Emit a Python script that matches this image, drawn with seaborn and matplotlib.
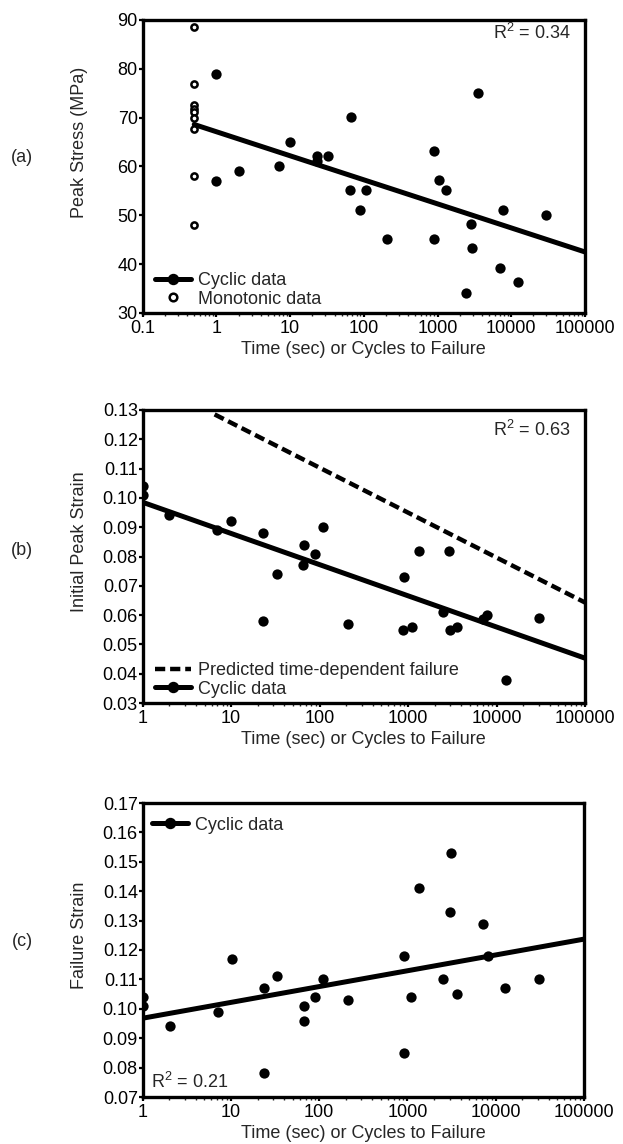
import matplotlib
matplotlib.use("Agg")
import matplotlib.pyplot as plt
import matplotlib.ticker as mticker
from matplotlib.lines import Line2D
import seaborn as sns

# ---- panel (a): peak stress vs time / cycles ----
a_cyc_time = [1, 1, 2, 7, 10, 22.8, 22.8, 32.7, 64.4, 67.9, 87.9, 108, 206,
              893, 893, 1045, 1288, 2455, 2870, 2965, 3532, 6935, 7690, 12300, 29800]
a_cyc_stress = [79, 57, 59, 60, 65, 62.2, 61.2, 62.2, 55.2, 70.2, 51.1, 55.2, 45.2,
                63.1, 45.2, 57.2, 55.2, 34.1, 48.2, 43.3, 75.1, 39.2, 51.1, 36.3, 50.1]
a_mono_time = [0.5, 0.5, 0.5, 0.5, 0.5, 0.5, 0.5, 0.5, 0.5]
a_mono_stress = [88.6, 76.9, 72.5, 71.8, 71.2, 69.9, 67.7, 58.0, 48.0]
a_fit_time = [0.5, 100000]
a_fit_stress = [68.6, 42.5]

# ---- panel (b): initial peak strain ----
b_time = [1, 1, 2, 7, 10, 22.7, 22.7, 32.7, 67, 65.3, 88.5, 108, 207,
          903, 880, 1096, 1324, 2495, 2915, 2965, 3590, 7060, 7710, 12650, 30300]
b_strain = [0.104, 0.101, 0.094, 0.089, 0.092, 0.088, 0.058, 0.074, 0.084, 0.077, 0.081, 0.090, 0.057,
            0.073, 0.055, 0.056, 0.082, 0.061, 0.082, 0.055, 0.056, 0.0585, 0.060, 0.038, 0.059]
b_fit_time = [1, 100000]
b_fit_strain = [0.0985, 0.0453]
b_pred_time = [6.5, 100000]
b_pred_strain = [0.1285, 0.0643]

# ---- panel (c): failure strain ----
c_time = [1, 1, 2.05, 7.1, 10.3, 23.5, 23.5, 33.3, 66.9, 66.9, 90.6, 110, 213,
          910, 910, 1102, 1347, 2541, 2993, 3073, 3657, 7215, 8160, 12700, 30900]
c_strain = [0.104, 0.101, 0.094, 0.099, 0.117, 0.107, 0.078, 0.111, 0.101, 0.096, 0.104, 0.110, 0.103,
            0.118, 0.085, 0.104, 0.141, 0.110, 0.133, 0.153, 0.105, 0.129, 0.118, 0.107, 0.110]
c_fit_time = [1, 100000]
c_fit_strain = [0.0968, 0.1237]

decade_ticks = [0.1, 1, 10, 100, 1000, 10000, 100000]
decade_labels = ['0.1', '1', '10', '100', '1000', '10000', '100000']

sns.set_style("ticks")
plt.rcParams['font.family'] = ['Liberation Sans', 'DejaVu Sans']
plt.rcParams['font.size'] = 13
plt.rcParams['mathtext.fontset'] = 'custom'
plt.rcParams['mathtext.rm'] = 'Liberation Sans'
plt.rcParams['mathtext.it'] = 'Liberation Sans:italic'

FS = 13
W, H = 623, 1144
fig = plt.figure(figsize=(W / 100, H / 100), dpi=100)


def make_axes(left, top, right, bottom):
    return fig.add_axes([left / W, 1 - bottom / H, (right - left) / W, (bottom - top) / H])


def style_axis(ax, xmin, ylim, ystep, yfmt):
    ax.set_xscale('log')
    ax.set_xlim(xmin, 100000)
    ax.set_ylim(*ylim)
    ticks = [t for t in decade_ticks if t >= xmin]
    labels = [l for t, l in zip(decade_ticks, decade_labels) if t >= xmin]
    ax.xaxis.set_major_locator(mticker.FixedLocator(ticks))
    ax.xaxis.set_major_formatter(mticker.FixedFormatter(labels))
    ax.xaxis.set_minor_locator(mticker.LogLocator(base=10, subs=range(2, 10), numticks=20))
    ax.xaxis.set_minor_formatter(mticker.NullFormatter())
    ax.yaxis.set_major_locator(mticker.MultipleLocator(ystep))
    ax.yaxis.set_major_formatter(mticker.FormatStrFormatter(yfmt))
    ax.tick_params(which='major', direction='out', length=3, width=1.6,
                   labelsize=FS, colors='black')
    ax.tick_params(axis='x', which='major', pad=2)
    ax.tick_params(axis='y', which='major', pad=0.5)
    ax.tick_params(which='minor', direction='out', length=2.5, width=1.0)
    ax.tick_params(axis='y', which='minor', left=False)
    for sp in ax.spines.values():
        sp.set_visible(True)
        sp.set_linewidth(2.4)
        sp.set_color('black')
    ax.set_xlabel('Time (sec) or Cycles to Failure', fontsize=FS, labelpad=3)
    ax.set_ylabel('')


dot = dict(color='black', s=55, linewidth=0, legend=False, zorder=3)
cyc_handle = Line2D([], [], color='black', lw=3.6, marker='o', markersize=7.2)
leg_kw = dict(frameon=False, fontsize=FS, handlelength=2.0, handletextpad=0.4,
              labelspacing=0.08, borderpad=0.2)

# (a)
ax_a = make_axes(142.7, 20, 585, 313)
sns.lineplot(x=a_fit_time, y=a_fit_stress, color='black', lw=3.6, ax=ax_a)
sns.scatterplot(x=a_cyc_time, y=a_cyc_stress, ax=ax_a, **dot)
sns.scatterplot(x=a_mono_time, y=a_mono_stress, ax=ax_a, facecolor='white', edgecolor='black',
                linewidth=1.8, s=20, legend=False, zorder=3)
style_axis(ax_a, 0.1, (30, 90), 10, '%d')
mono_handle = Line2D([], [], ls='none', marker='o', markerfacecolor='white',
                     markeredgecolor='black', markeredgewidth=1.8, markersize=5.5)
ax_a.legend([cyc_handle, mono_handle], ['Cyclic data', 'Monotonic data'], loc='lower left',
            bbox_to_anchor=(0.015, 0), borderaxespad=0.1, **leg_kw)
ax_a.text(0.967, 0.956, r'R$^{2}$ = 0.34', transform=ax_a.transAxes, ha='right', va='center', fontsize=FS)

# (b)
ax_b = make_axes(142.7, 410, 585, 703)
sns.lineplot(x=b_pred_time, y=b_pred_strain, color='black', lw=3.2, ax=ax_b)
ax_b.lines[-1].set_dashes((2.3, 1.1))
sns.lineplot(x=b_fit_time, y=b_fit_strain, color='black', lw=3.6, ax=ax_b)
sns.scatterplot(x=b_time, y=b_strain, ax=ax_b, **dot)
style_axis(ax_b, 1, (0.03, 0.13), 0.01, '%.2f')
pred_handle = Line2D([], [], color='black', lw=3.2, dashes=(2.3, 1.1))
ax_b.legend([pred_handle, cyc_handle], ['Predicted time-dependent failure', 'Cyclic data'],
            loc='lower left', bbox_to_anchor=(0.015, 0), borderaxespad=0.1, **leg_kw)
ax_b.text(0.967, 0.932, r'R$^{2}$ = 0.63', transform=ax_b.transAxes, ha='right', va='center', fontsize=FS)

# (c)
ax_c = make_axes(142.7, 803, 584, 1097)
sns.lineplot(x=c_fit_time, y=c_fit_strain, color='black', lw=3.6, ax=ax_c)
sns.scatterplot(x=c_time, y=c_strain, ax=ax_c, **dot)
style_axis(ax_c, 1, (0.07, 0.17), 0.01, '%.2f')
ax_c.legend([cyc_handle], ['Cyclic data'], loc='upper left', bbox_to_anchor=(-0.01, 1),
            borderaxespad=0.55, **leg_kw)
ax_c.text(0.018, 0.052, r'R$^{2}$ = 0.21', transform=ax_c.transAxes, ha='left', va='center', fontsize=FS)

# panel letters and y labels
for letter, ylab, yc_letter, yc_label in [('(a)', 'Peak Stress (MPa)', 157, 142),
                                          ('(b)', 'Initial Peak Strain', 550, 542),
                                          ('(c)', 'Failure Strain', 942, 935)]:
    fig.text(22 / W, 1 - yc_letter / H, letter, ha='center', va='center', fontsize=FS)
    fig.text(79 / W, 1 - yc_label / H, ylab, ha='center', va='center', rotation=90, fontsize=FS)

fig.savefig('out.png', dpi=100)
plt.close(fig)
